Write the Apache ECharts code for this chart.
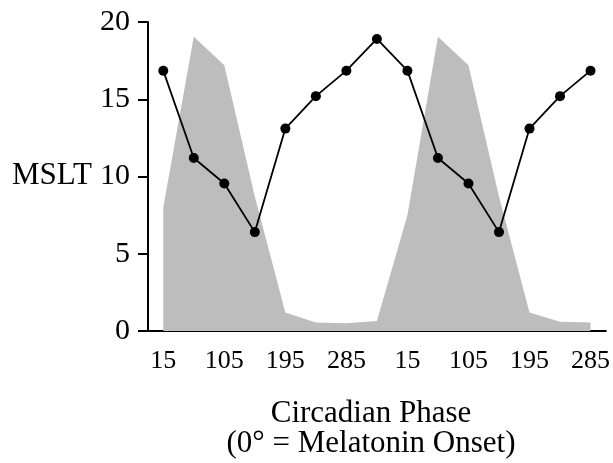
<!DOCTYPE html>
<html>
<head>
<meta charset="utf-8">
<script src="https://cdn.jsdelivr.net/npm/echarts@6/dist/echarts.min.js"></script>
<style>html,body{margin:0;padding:0;background:#fff;}#c{width:613px;height:463px;}</style>
</head>
<body>
<div id="c"></div>
<script>
var categories = ['15','60','105','150','195','240','285','330','15','60','105','150','195','240','285'];
var melatoninArea = [8.0, 19.05, 17.2, 8.7, 1.2, 0.55, 0.5, 0.65, 7.5, 19.05, 17.2, 8.7, 1.2, 0.6, 0.55];
var msltValues = [16.85, 11.2, 9.55, 6.4, 13.1, 15.2, 16.85, 18.9, 16.85, 11.2, 9.55, 6.4, 13.1, 15.2, 16.85];
var yTicks = [0, 5, 10, 15, 20];

var serif = '"Liberation Serif", "DejaVu Serif", serif';
var chart = echarts.init(document.getElementById('c'), null, {renderer: 'canvas'});
chart.setOption({
  animation: false,
  backgroundColor: '#ffffff',
  grid: {left: 148, right: 6, top: 22, bottom: 132, containLabel: false},
  title: {
    text: 'Circadian Phase\n(0° = Melatonin Onset)',
    left: 366, top: 394, textAlign: 'center',
    textStyle: {fontFamily: serif, fontSize: 31, fontWeight: 'normal', color: '#000', lineHeight: 30}
  },
  graphic: [{
    type: 'text', left: 12, top: 160,
    style: {text: 'MSLT', font: '31px ' + serif, fill: '#000'}
  }],
  xAxis: {
    type: 'category', data: categories, boundaryGap: true,
    axisLine: {lineStyle: {color: '#000', width: 2}},
    axisTick: {alignWithLabel: true, interval: 0, length: 10, lineStyle: {color: '#000', width: 2}},
    axisLabel: {interval: 1, color: '#000', fontFamily: serif, fontSize: 26, margin: 17},
    splitLine: {show: false}
  },
  yAxis: {
    type: 'value', min: yTicks[0], max: yTicks[yTicks.length - 1], interval: 5,
    axisLine: {show: true, lineStyle: {color: '#000', width: 2}},
    axisTick: {show: true, length: 10, lineStyle: {color: '#000', width: 2}},
    axisLabel: {color: '#000', fontFamily: serif, fontSize: 30, margin: 18},
    splitLine: {show: false}
  },
  series: [{
    type: 'line', data: melatoninArea, symbol: 'none', z: 1,
    lineStyle: {width: 0, color: '#bdbdbd'},
    areaStyle: {color: '#bdbdbd', opacity: 1}
  }, {
    type: 'line', data: msltValues, symbol: 'circle', symbolSize: 10, z: 3,
    lineStyle: {color: '#000', width: 1.8},
    itemStyle: {color: '#000'}
  }]
});
</script>
</body>
</html>
